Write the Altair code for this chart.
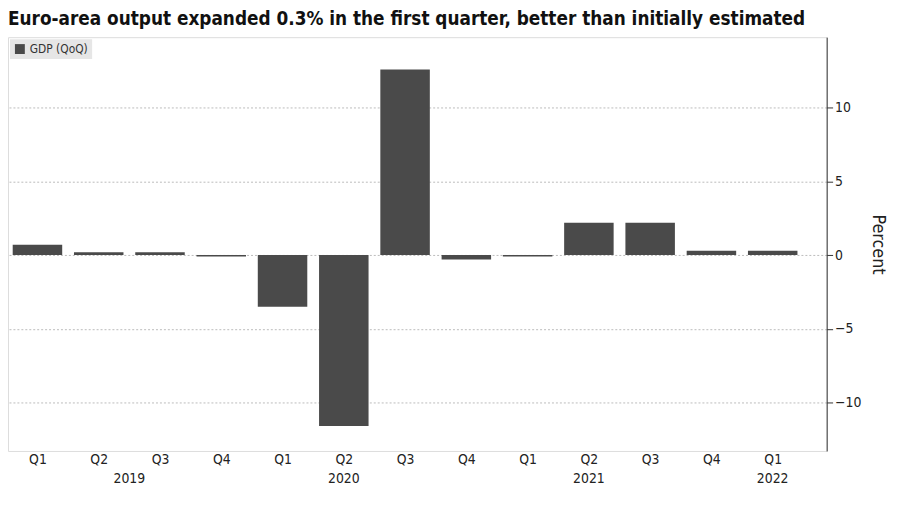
import altair as alt
import pandas as pd

quarters = ["Q1","Q2","Q3","Q4","Q1","Q2","Q3","Q4","Q1","Q2","Q3","Q4","Q1"]
values = [0.7, 0.2, 0.2, -0.1, -3.5, -11.6, 12.6, -0.3, -0.1, 2.2, 2.2, 0.3, 0.3]
years = ["2019", "2020", "2021", "2022"]
year_pos = [1.5, 5, 9, 12]

df = pd.DataFrame({"i": list(range(len(values))), "q": quarters, "v": values, "s": ["GDP (QoQ)"]*len(values)})
ydf = pd.DataFrame({"i": year_pos, "y": years})
expr = "[" + ",".join(f"'{q}'" for q in quarters) + "][datum.value]"
F = "DejaVu Sans Condensed"

xs = alt.Scale(domain=[-0.4, 12.8], nice=False, zero=False)
bars = alt.Chart(df).mark_bar(width=50, color="#4a4a4a").encode(
    x=alt.X("i:Q", scale=xs, axis=alt.Axis(values=list(range(13)), labelExpr=expr, title=None, grid=False,
            domain=False, ticks=False, labelFontSize=14, labelColor="#222", labelFont=F, labelPadding=2)),
    y=alt.Y("v:Q", scale=alt.Scale(domain=[-13.3, 14.8], nice=False),
            axis=alt.Axis(orient="right", values=[-10, -5, 0, 5, 10], title="Percent", titleAngle=90,
                          titleFontSize=18, titleFontWeight="normal", titleColor="#222", titlePadding=8, titleFont=F,
                          labelFontSize=14, labelColor="#222", labelFont=F, gridDash=[2, 2], gridColor="#bbb",
                          domainColor="#333", tickColor="#333", tickSize=6)),
    color=alt.Color("s:N", scale=alt.Scale(range=["#4a4a4a"]),
                    legend=alt.Legend(title=None, orient="top-left", fillColor="#e6e6e6", symbolType="square",
                                      labelFontSize=12, labelFont=F, padding=4, offset=2, labelColor="#333")),
)
yt = alt.Chart(ydf).mark_text(fontSize=14, color="#222", font=F).encode(
    x=alt.X("i:Q", scale=xs), y=alt.value(446), text="y:N")

chart = (bars + yt).properties(
    width=827, height=418,
    title=alt.TitleParams("Euro-area output expanded 0.3% in the first quarter, better than initially estimated",
                          anchor="start", fontSize=19, fontWeight="bold", color="#111", offset=8, font=F),
    padding={"left": 0, "top": 0, "right": 5, "bottom": 5},
).configure_view(stroke=None).configure(background="white")
chart.save("out.html", embed_options={"renderer": "svg", "actions": False})
